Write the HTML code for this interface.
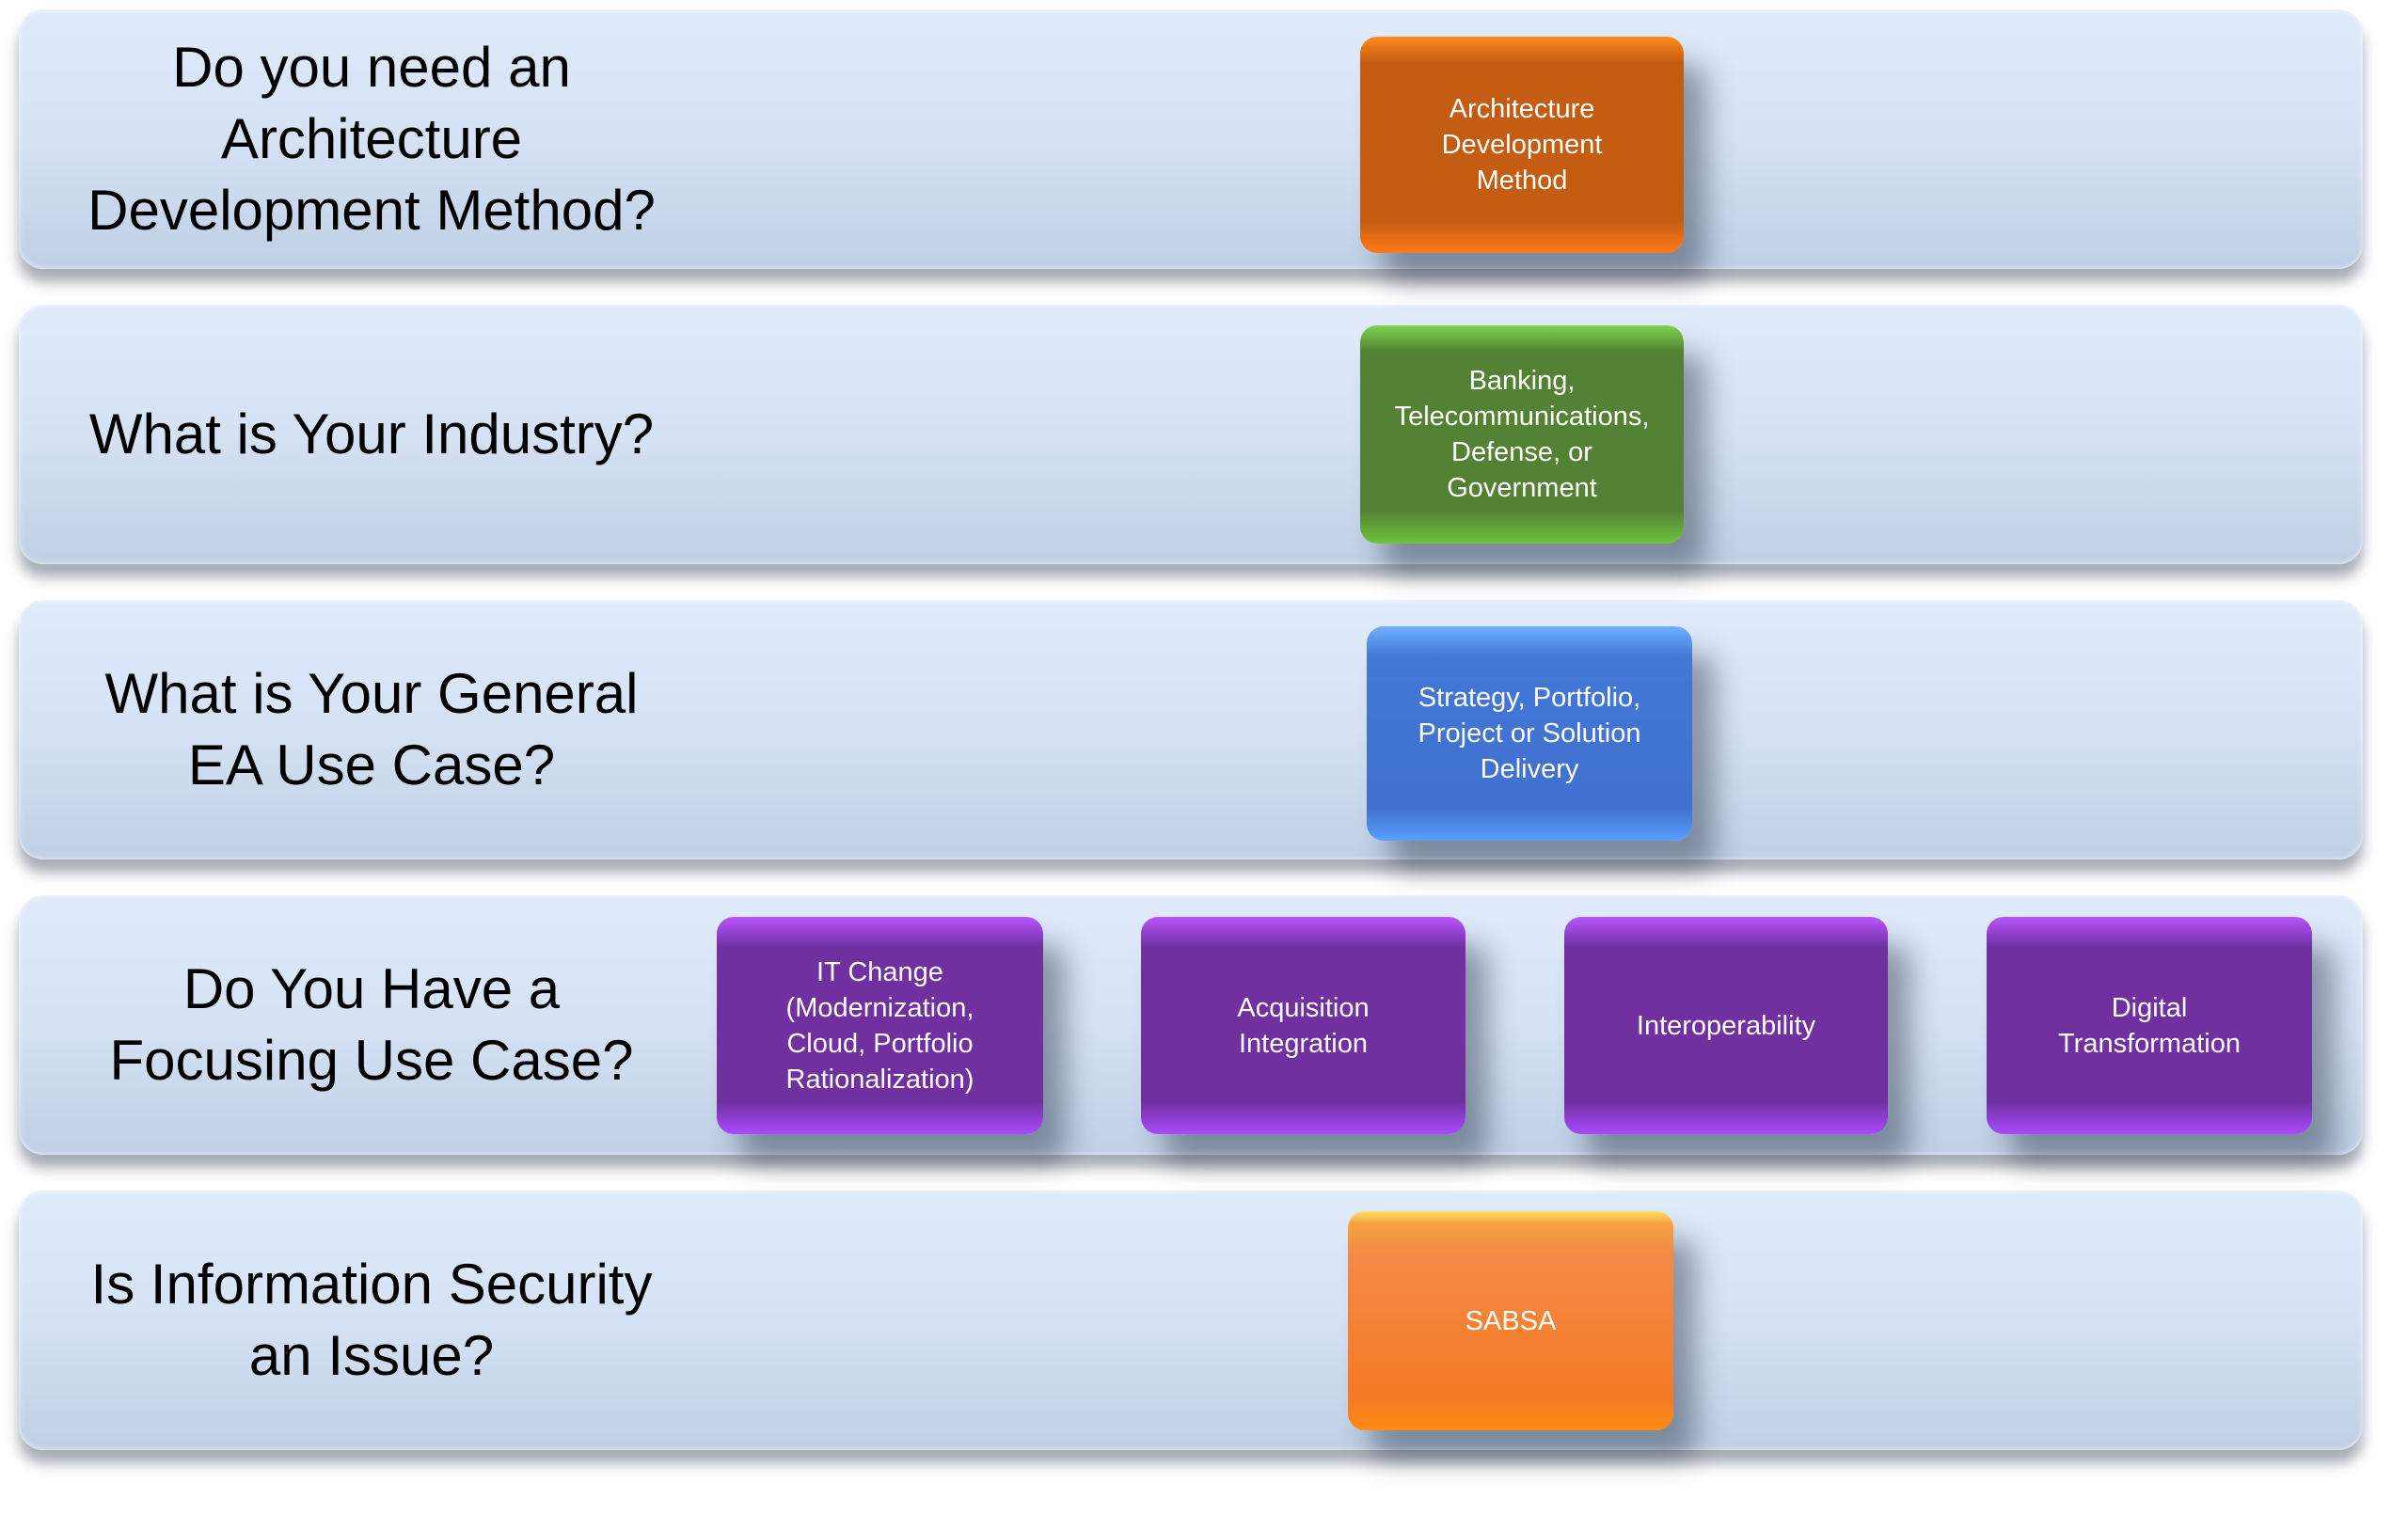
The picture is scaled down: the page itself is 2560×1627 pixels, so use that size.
<!DOCTYPE html>
<html><head><meta charset="utf-8"><style>
html,body{margin:0;padding:0;background:#fff;}
body{width:2560px;height:1627px;position:relative;overflow:hidden;font-family:"Liberation Sans",sans-serif;}
.band{position:absolute;left:20px;width:2492px;height:276px;border-radius:26px;
background:linear-gradient(#e0ebfa 0%,#d5e2f4 50%,#bfcfe5 100%);
box-shadow:0 14px 14px rgba(60,70,90,0.45), inset 0 0 6px rgba(255,255,255,0.8);}
.q{position:absolute;left:20px;width:750px;text-align:center;font-size:60px;line-height:76px;color:#000;display:flex;align-items:center;justify-content:center;height:276px;}
.box{position:absolute;border-radius:18px;color:#fff;font-size:29px;line-height:38px;text-align:center;display:flex;align-items:center;justify-content:center;
box-shadow:24px 30px 30px rgba(40,50,70,0.45);}
.box span{padding:0 8px;}
.or{background:linear-gradient(#ff8a1e 0%,#c45c12 12%,#c45c12 85%,#ff7a1a 100%);}
.gr{background:linear-gradient(#7ed34e 0%,#548234 12%,#548234 85%,#6fc23e 100%);}
.bl{background:linear-gradient(#6fb0ff 0%,#4378d6 14%,#4070d0 85%,#5aa0ff 100%);}
.pu{background:linear-gradient(#b955ff 0%,#7030a0 14%,#7030a0 85%,#a94aff 100%);}
.sa{background:linear-gradient(#ffe060 0%,#f5a040 6%,#f38a45 20%,#f57a25 85%,#ff8a10 100%);}
</style></head><body>
<div class="band" style="top:10px"></div>
<div class="band" style="top:324px"></div>
<div class="band" style="top:638px"></div>
<div class="band" style="top:952px"></div>
<div class="band" style="top:1266px"></div>

<div class="q" style="top:10px">Do you need an<br>Architecture<br>Development Method?</div>
<div class="q" style="top:324px">What is Your Industry?</div>
<div class="q" style="top:638px">What is Your General<br>EA Use Case?</div>
<div class="q" style="top:952px">Do You Have a<br>Focusing Use Case?</div>
<div class="q" style="top:1266px">Is Information Security<br>an Issue?</div>

<div class="box or" style="left:1446px;top:39px;width:344px;height:230px"><span>Architecture<br>Development<br>Method</span></div>
<div class="box gr" style="left:1446px;top:346px;width:344px;height:232px"><span>Banking,<br>Telecommunications,<br>Defense, or<br>Government</span></div>
<div class="box bl" style="left:1453px;top:666px;width:346px;height:228px"><span>Strategy, Portfolio,<br>Project or Solution<br>Delivery</span></div>
<div class="box pu" style="left:762px;top:975px;width:347px;height:231px"><span>IT Change<br>(Modernization,<br>Cloud, Portfolio<br>Rationalization)</span></div>
<div class="box pu" style="left:1213px;top:975px;width:345px;height:231px"><span>Acquisition<br>Integration</span></div>
<div class="box pu" style="left:1663px;top:975px;width:344px;height:231px"><span>Interoperability</span></div>
<div class="box pu" style="left:2112px;top:975px;width:346px;height:231px"><span>Digital<br>Transformation</span></div>
<div class="box sa" style="left:1433px;top:1288px;width:346px;height:233px"><span>SABSA</span></div>
</body></html>
